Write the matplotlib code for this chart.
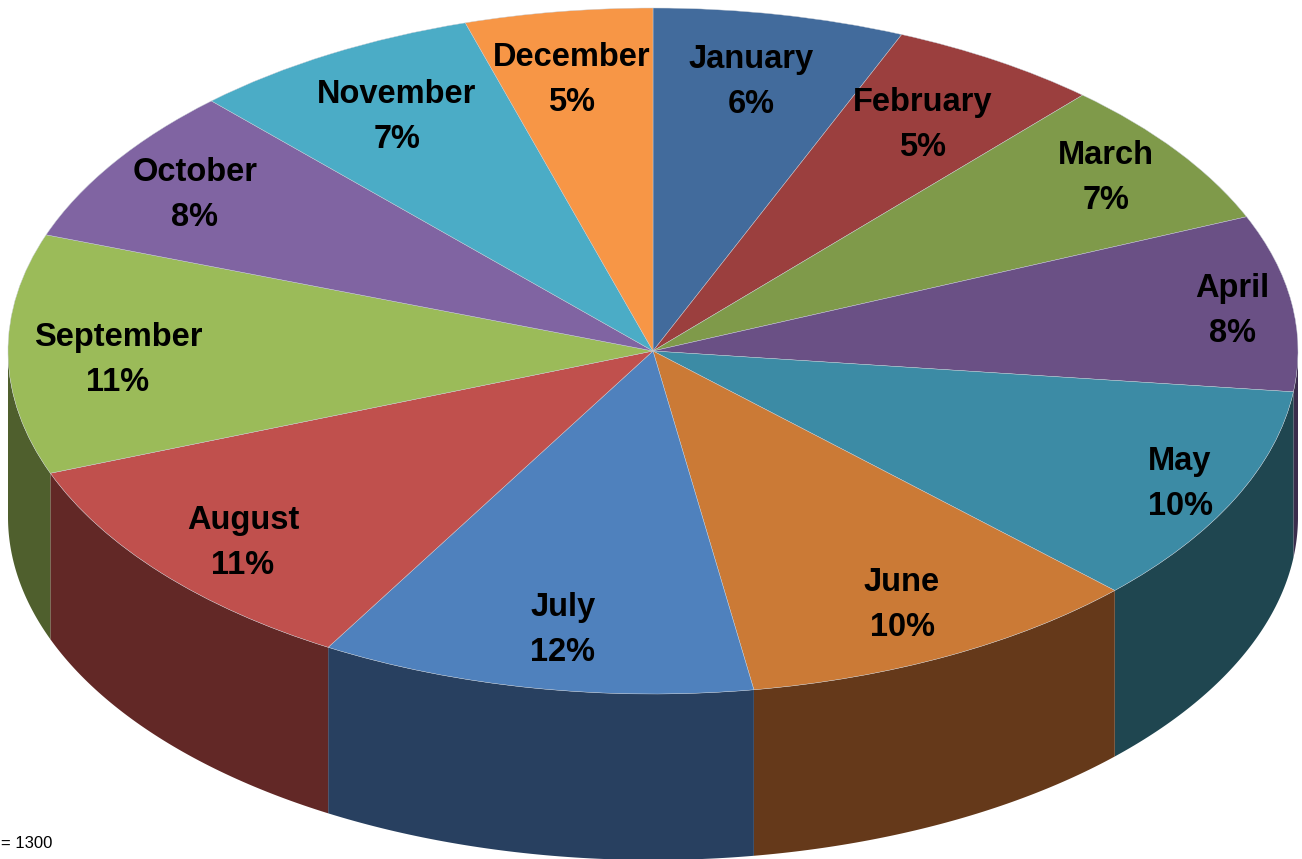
import numpy as np
import matplotlib
matplotlib.use('Agg')
import matplotlib.pyplot as plt
from matplotlib.transforms import Affine2D

months = ['January', 'February', 'March', 'April', 'May', 'June', 'July',
          'August', 'September', 'October', 'November', 'December']
# share of each slice (the labels are rounded)
values = [6.3, 5.3, 7.0, 8.3, 10.4, 10.2, 10.9, 10.8, 11.3, 7.5, 7.3, 4.7]
pct_labels = ['6%', '5%', '7%', '8%', '10%', '10%', '12%', '11%', '11%', '8%', '7%', '5%']

top_colors = ['#426b9c', '#9b3f3e', '#7f9a4a', '#6a5085', '#3c8ba5', '#cb7a36',
              '#4f81bd', '#c0504d', '#9bbb59', '#8064a2', '#4bacc6', '#f79646']
wall_colors = ['#213650', '#4f2020', '#414f26', '#3b2c4c', '#1f4650', '#65391a',
               '#284060', '#622826', '#4f5f2d', '#41325a', '#265763', '#7c4b23']

# label centres in pixels
label_x = [751, 923, 1106, 1232, 1180, 902, 563, 243, 118, 195, 397, 572]
label_y = [82, 125, 178, 311, 484, 605, 630, 543, 360, 195, 117, 80]

cx, cy = 653, 351
rx, ry = 645, 343
depth = 166

plt.rcParams['font.family'] = ['Liberation Sans', 'DejaVu Sans']

fig = plt.figure(figsize=(13.02, 8.59), dpi=100)
ax = fig.add_axes([0, 0, 1, 1])

############ side wall, only the part of the rim that faces the viewer ############
edges = np.cumsum([0] + values) / np.sum(values) * 360
for i in range(len(values)):
    a0 = max(edges[i], 90)
    a1 = min(edges[i + 1], 270)
    if a1 <= a0:
        continue
    t = np.radians(np.linspace(a0, a1, 60))
    x = cx + rx * np.sin(t)
    y = cy - ry * np.cos(t)
    ax.fill(np.r_[x, x[::-1]], np.r_[y, y[::-1] + depth], color=wall_colors[i], lw=0)

############ top of the pie ############
wedges, _ = ax.pie(values, colors=top_colors, startangle=90, counterclock=False,
                   wedgeprops={'linewidth': 0.3, 'edgecolor': '#c8ced6'})
squash = Affine2D().scale(rx, -ry).translate(cx, cy) + ax.transData
for w in wedges:
    w.set_transform(squash)
    w.set_clip_on(False)

for i in range(len(months)):
    ax.text(label_x[i], label_y[i], months[i] + '\n' + pct_labels[i], ha='center', va='center',
            fontsize=23.5, fontweight='bold', color='black', linespacing=1.62)

ax.text(52, 848, '= 1300', ha='right', va='baseline', fontsize=12, color='black')

ax.set_aspect('auto')
ax.set_xlim(0, 1302)
ax.set_ylim(859, 0)
ax.axis('off')

fig.savefig('out.png', dpi=100, facecolor='white')
